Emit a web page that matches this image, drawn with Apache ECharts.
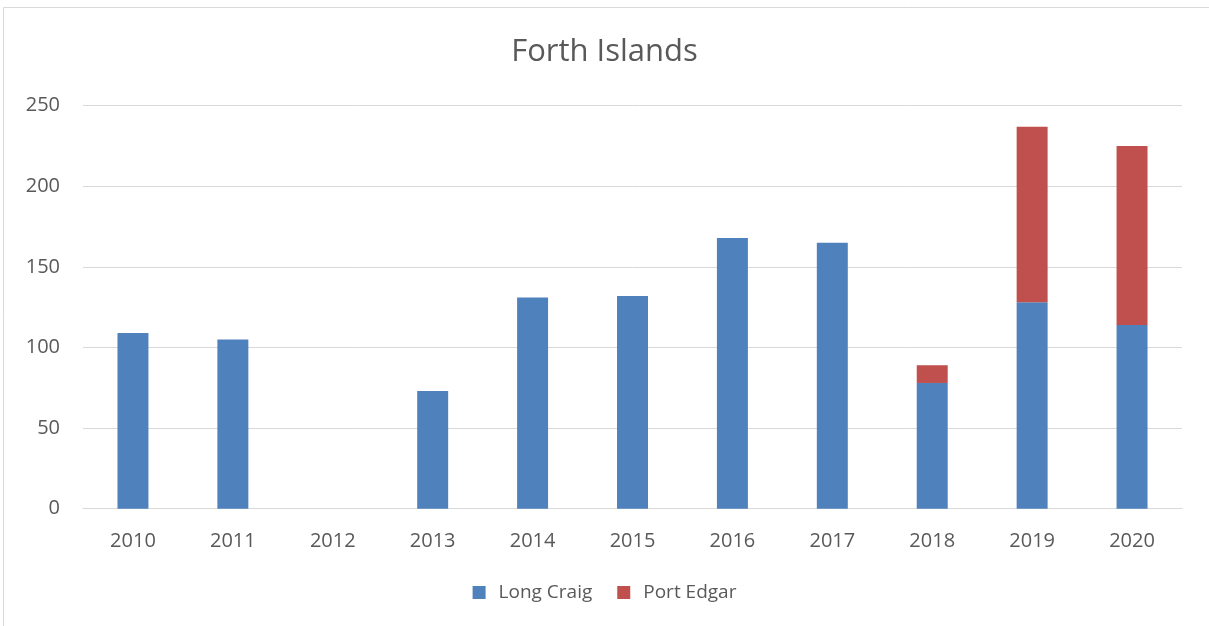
<!DOCTYPE html>
<html lang="en">
<head>
    <meta charset="UTF-8">
    <title>Forth Islands</title>
    <script src="https://cdn.jsdelivr.net/npm/echarts@6.0.0/dist/echarts.min.js"></script>
    <style>
        html, body { margin: 0; padding: 0; background: #fff; }
        #main { width: 1209px; height: 626px; }
    </style>
</head>
<body>
<div id="main"></div>
<script type="text/javascript">
    var years = ['2010', '2011', '2012', '2013', '2014', '2015', '2016', '2017', '2018', '2019', '2020'];
    var longCraig = [109, 105, 0, 73, 131, 132, 168, 165, 78, 128, 114];
    var portEdgar = [0, 0, 0, 0, 0, 0, 0, 0, 11, 109, 111];
    var yTicks = [0, 50, 100, 150, 200, 250];

    var font = '"Open Sans", "Noto Sans", sans-serif';
    var myChart = echarts.init(document.getElementById('main'), null, {renderer: 'canvas'});

    var option = {
        backgroundColor: '#fff',
        animation: false,
        title: {
            text: 'Forth Islands',
            left: 'center',
            top: 32,
            textStyle: {fontFamily: font, fontSize: 31, fontWeight: 'normal', color: '#595959'}
        },
        graphic: [{
            type: 'rect',
            shape: {x: 3.5, y: 7.5, width: 1210, height: 640},
            style: {fill: 'none', stroke: '#d9d9d9', lineWidth: 1},
            silent: true
        }],
        legend: {
            bottom: 19,
            left: 'center',
            itemWidth: 13,
            itemHeight: 13,
            itemGap: 25,
            icon: 'rect',
            textStyle: {fontFamily: font, fontSize: 19, color: '#595959', padding: [0, 0, 0, 8]},
            data: ['Long Craig', 'Port Edgar']
        },
        grid: {left: 83, right: 27, top: 105.7, bottom: 117.3, containLabel: false},
        xAxis: {
            type: 'category',
            data: years,
            axisLine: {lineStyle: {color: '#d9d9d9', width: 1}},
            axisTick: {show: false},
            axisLabel: {fontFamily: font, fontSize: 20, color: '#595959', margin: 23}
        },
        yAxis: {
            type: 'value',
            min: yTicks[0],
            max: yTicks[yTicks.length - 1],
            interval: 50,
            axisLine: {show: false},
            axisTick: {show: false},
            axisLabel: {fontFamily: font, fontSize: 20, color: '#595959', margin: 23},
            splitLine: {lineStyle: {color: '#d9d9d9', width: 1}}
        },
        series: [
            {
                name: 'Long Craig',
                type: 'bar',
                stack: 'total',
                barWidth: '31%',
                itemStyle: {color: '#4f81bd'},
                data: longCraig
            },
            {
                name: 'Port Edgar',
                type: 'bar',
                stack: 'total',
                barWidth: '31%',
                itemStyle: {color: '#c0504d'},
                data: portEdgar
            }
        ]
    };

    myChart.setOption(option);
</script>
</body>
</html>
